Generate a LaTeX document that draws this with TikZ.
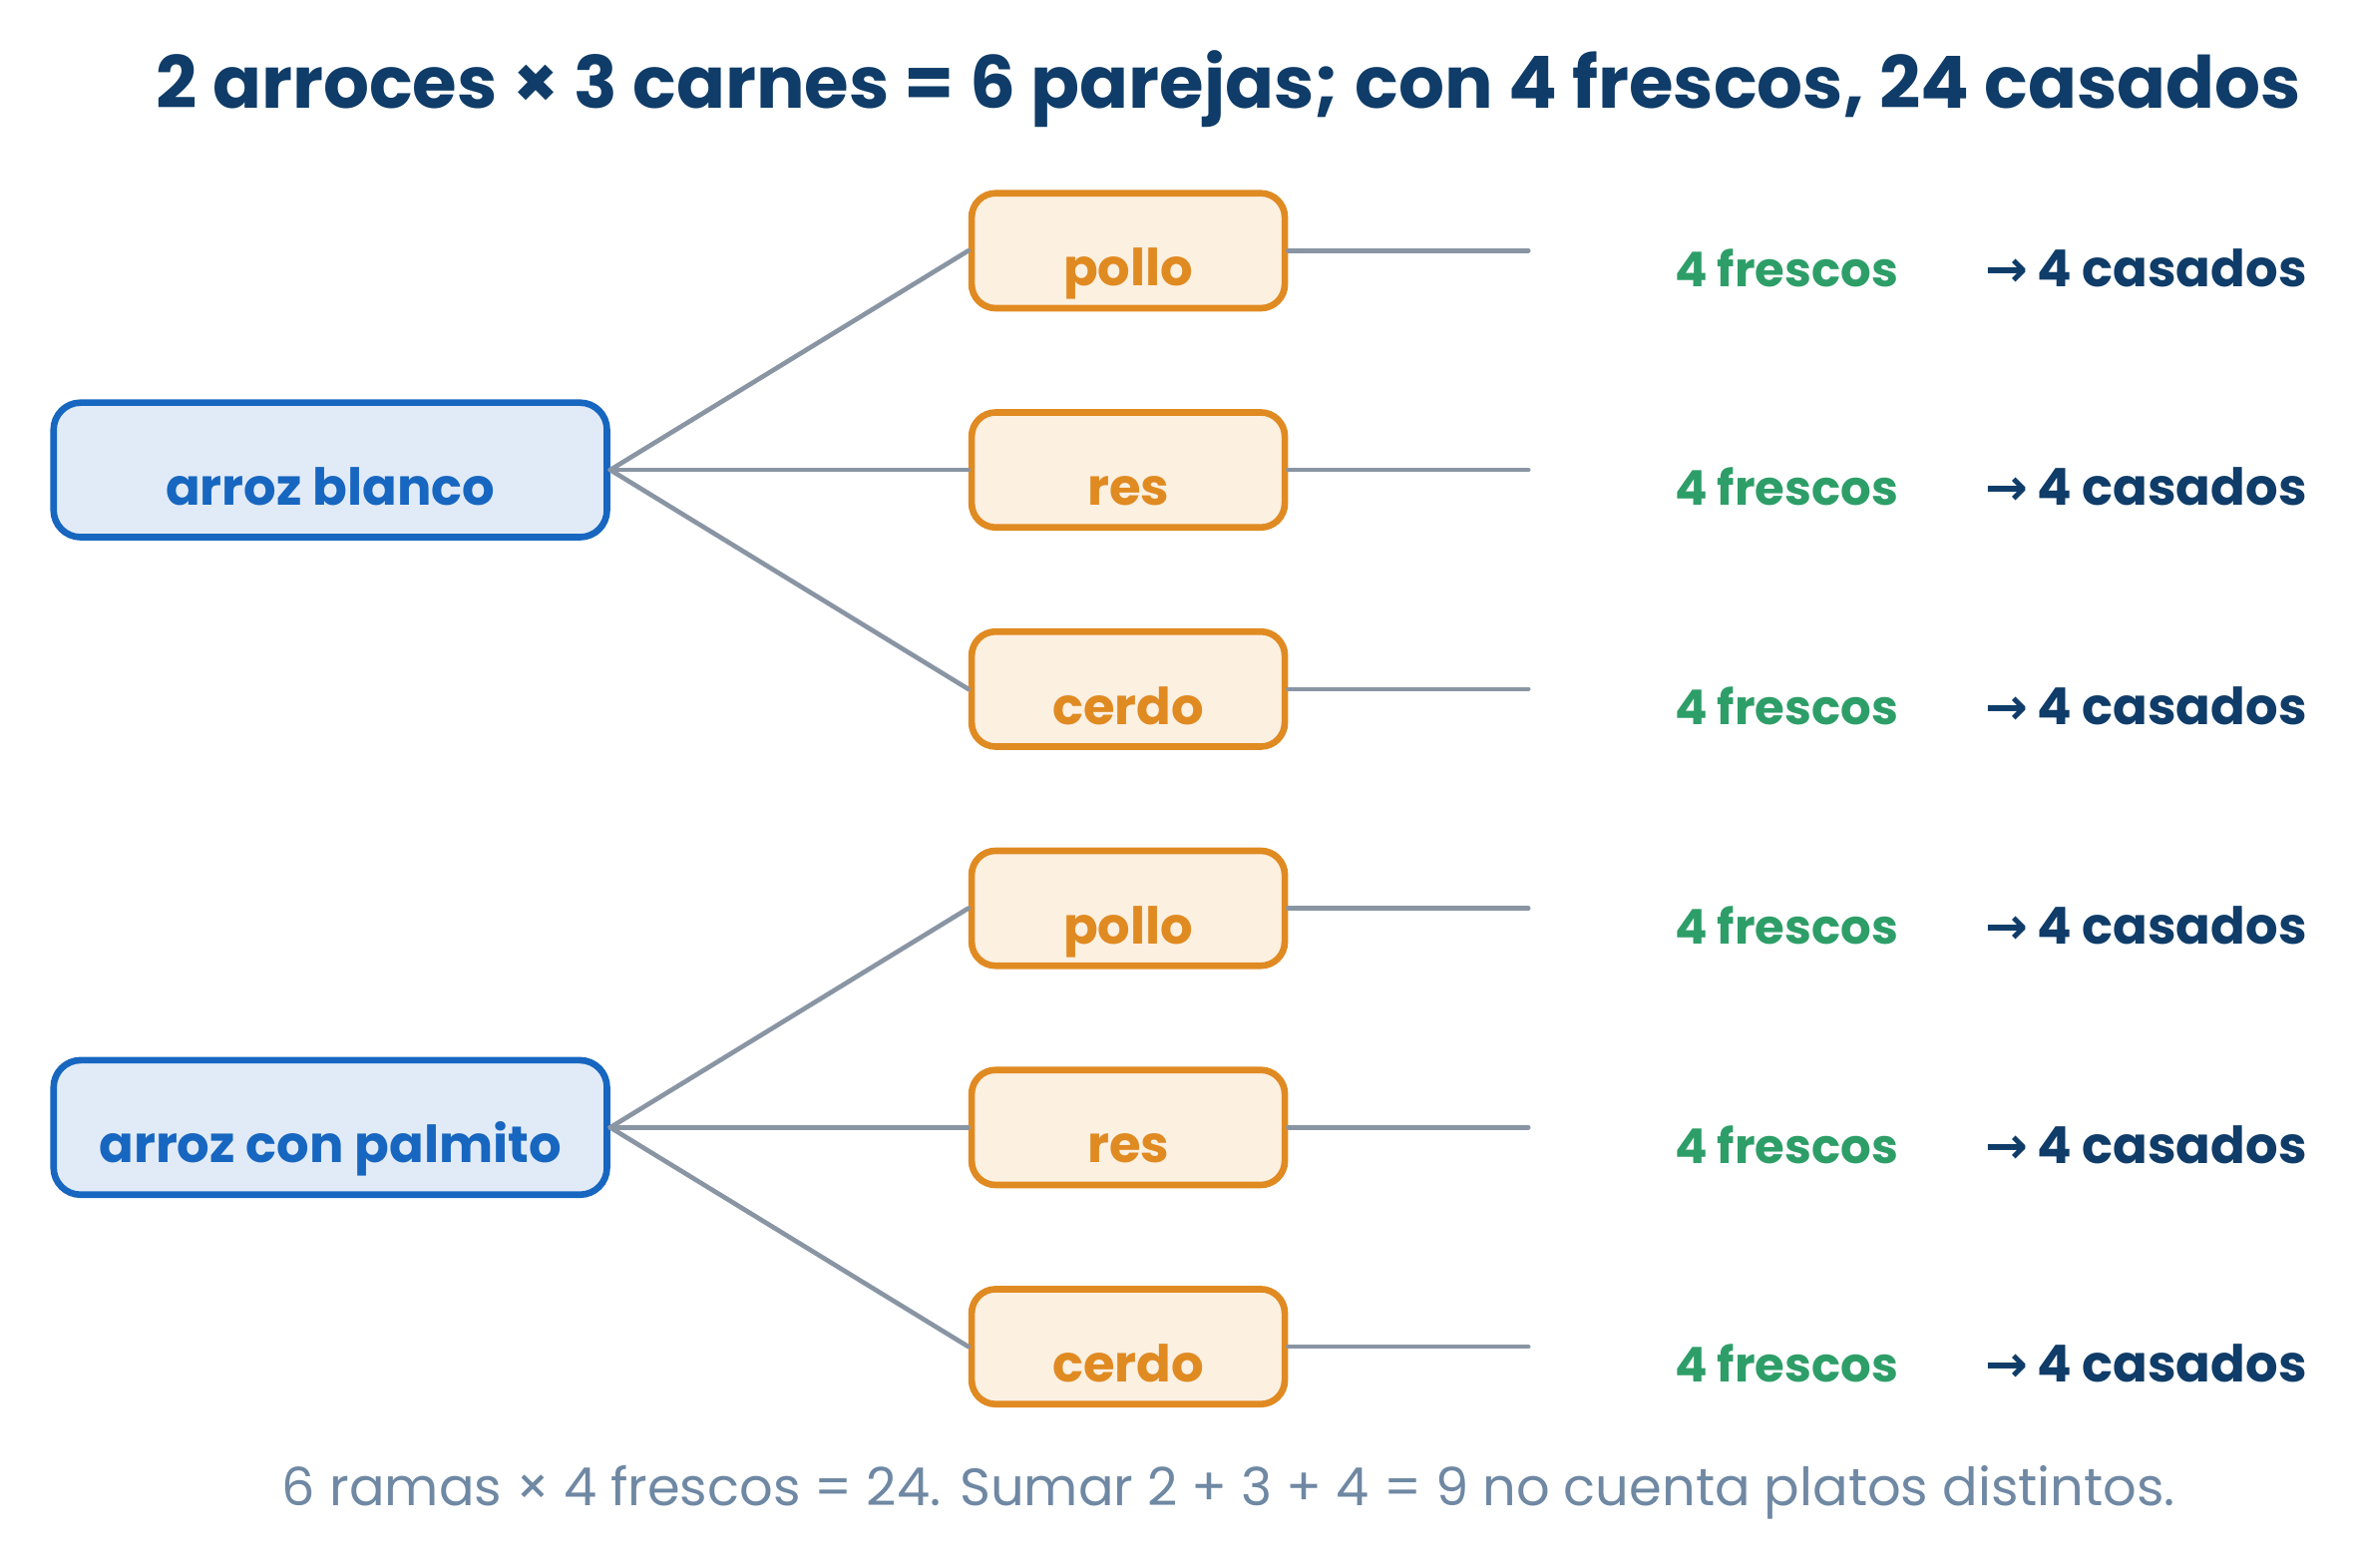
\documentclass[tikz,border=0pt]{standalone}
\usepackage{fontspec}
\setmainfont{Poppins}
\newfontfamily\flechafont{DejaVu Sans}
\usepackage{tikz}
\usetikzlibrary{positioning}
\definecolor{azulosc}{HTML}{0F3C68}
\definecolor{azulbor}{HTML}{1766C0}
\definecolor{azulfon}{HTML}{E1EBF7}
\definecolor{naranja}{HTML}{E08A22}
\definecolor{naranjafon}{HTML}{FCF0E1}
\definecolor{verde}{HTML}{2E9E68}
\definecolor{gris}{HTML}{8995A3}
\definecolor{grisazul}{HTML}{6F88A3}

\begin{document}
\begin{tikzpicture}[x=0.5pt,y=-0.5pt,
  arroz/.style={draw=azulbor, fill=azulfon, line width=2.2pt, rounded corners=9pt,
    minimum width=184.3pt, minimum height=44.8pt, text=azulbor,
    font=\fontsize{17}{20}\selectfont\bfseries, text height=23.6pt, text depth=0pt},
  carne/.style={draw=naranja, fill=naranjafon, line width=2.2pt, rounded corners=8pt,
    minimum width=104.3pt, minimum height=38.3pt, text=naranja,
    font=\fontsize{17}{20}\selectfont\bfseries, text height=23.6pt, text depth=0pt},
  rama/.style={draw=gris, line width=1.55pt, line cap=round},
  fresco/.style={text=verde, font=\fontsize{16}{20}\selectfont\bfseries, anchor=base},
  casado/.style={text=azulosc, font=\fontsize{17}{20}\selectfont\bfseries, anchor=base west, inner sep=0pt},
  titulo/.style={text=azulosc, font=\fontsize{24}{30}\selectfont\bfseries, anchor=base},
  nota/.style={text=grisazul, font=\fontsize{17.5}{22}\selectfont, anchor=base}]
\useasboundingbox (0,0) rectangle (1568,1044);

% titulo
\node[titulo] (titulo) at (818.5,72) {2 arroces × 3 carnes = 6 parejas; con 4 frescos, 24 casados};

% arroces
\node[arroz] (arroz1) at (220,313) {arroz blanco};
\node[arroz] (arroz2) at (220,751) {arroz con palmito};

% carnes, ramas y conteos
\foreach \i/\y/\c/\a in {1/167/pollo/1, 2/313/res/1, 3/459/cerdo/1,
                         4/605/pollo/2, 5/751/res/2, 6/897/cerdo/2}{
  \node[carne] (carne\i) at (751.5,\y) {\c};
  \draw[rama] (arroz\a.east) -- (carne\i.west);
  \coordinate (fin\i) at (1018,\y);
  \draw[rama] (carne\i.east) -- (fin\i);
  \node[fresco] (fresco\i) at (1190,\y+23.7) {4 frescos};
  \node[casado] (casado\i) at (1322,\y+23.7) {{\flechafont →}\hspace{3pt}4 casados};
}

% nota
\node[nota] (nota) at (818.5,1003) {6 ramas × 4 frescos = 24. Sumar 2 + 3 + 4 = 9 no cuenta platos distintos.};
\end{tikzpicture}
\end{document}
